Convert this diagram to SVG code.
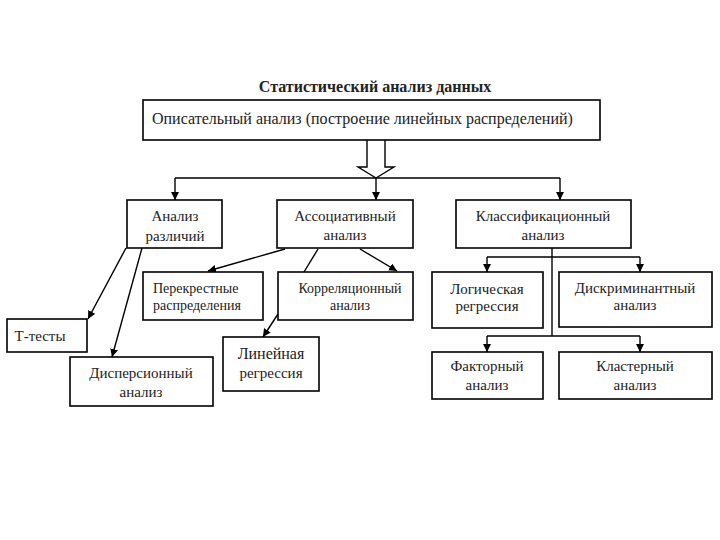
<svg xmlns="http://www.w3.org/2000/svg" width="720" height="540" viewBox="0 0 720 540">
<defs>
<marker id="ah" viewBox="0 0 10 10" refX="10" refY="5" markerWidth="8" markerHeight="8" orient="auto" markerUnits="userSpaceOnUse">
<path d="M0,0 L10,5 L0,10 z" fill="#000"/>
</marker>
<style>
.box{fill:#fff;stroke:#000;stroke-width:1.6}
.t{font-family:"Liberation Serif","Times New Roman",serif;font-size:15px;fill:#222;text-anchor:middle}
.s{font-size:14px}
.ln{stroke:#000;stroke-width:1.4;fill:none}
.ar{stroke:#000;stroke-width:1.4;fill:none;marker-end:url(#ah)}
</style>
</defs>
<rect width="720" height="540" fill="#fff"/>
<text x="375" y="92" class="t" style="font-weight:bold;font-size:16px" fill="#111">Статистический анализ данных</text>

<g id="connectors">
<path class="ln" d="M367,140 V167 H358 L376,178 L394,167 H385 V140" fill="#fff"/>
<path class="ln" d="M175,178 H560"/>
<path class="ar" d="M175,178 V200"/>
<path class="ar" d="M376,178 V200"/>
<path class="ar" d="M560,178 V200"/>
<path class="ar" d="M126,248 L88,319"/>
<path class="ar" d="M142,248 L112,357"/>
<path class="ar" d="M285,249 L208,271"/>
<path class="ar" d="M360,249 L397,271"/>
<path class="ln" d="M318,249 L304,272"/>
<path class="ar" d="M278,314 L263,337"/>
<path class="ln" d="M552,248 V336"/>
<path class="ln" d="M487,257 H640"/>
<path class="ln" d="M487,336 H640"/>
<path class="ar" d="M487,257 V272"/>
<path class="ar" d="M640,257 V272"/>
<path class="ar" d="M487,336 V352"/>
<path class="ar" d="M640,336 V352"/>
</g>

<g id="desc"><rect class="box" x="143" y="100" width="457" height="40"/><text class="t" x="152" y="124" style="text-anchor:start;font-size:16px">Описательный анализ (построение линейных распределений)</text></g>
<g id="diff"><rect class="box" x="127" y="200" width="95" height="48"/><text class="t" x="175" y="221">Анализ</text><text class="t" x="175" y="241">различий</text></g>
<g id="assoc"><rect class="box" x="277" y="200" width="136" height="48"/><text class="t" x="345" y="221">Ассоциативный</text><text class="t" x="345" y="240">анализ</text></g>
<g id="class"><rect class="box" x="456" y="200" width="175" height="48"/><text class="t" x="543" y="221">Классификационный</text><text class="t" x="543" y="240">анализ</text></g>
<g id="cross"><rect class="box" x="143" y="272" width="120" height="48"/><text class="t s" x="153" y="293" style="text-anchor:start">Перекрестные</text><text class="t s" x="153" y="310" style="text-anchor:start">распределения</text></g>
<g id="corr"><rect class="box" x="278" y="272" width="135" height="48"/><text class="t s" x="350" y="293">Корреляционный</text><text class="t s" x="350" y="310">анализ</text></g>
<g id="logreg"><rect class="box" x="432" y="272" width="111" height="56"/><text class="t" x="487" y="294">Логическая</text><text class="t" x="487" y="311">регрессия</text></g>
<g id="discr"><rect class="box" x="559" y="272" width="153" height="55"/><text class="t" x="635" y="293">Дискриминантный</text><text class="t" x="635" y="310">анализ</text></g>
<g id="ttest"><rect class="box" x="7" y="319" width="80" height="33"/><text class="t" x="40" y="341">Т-тесты</text></g>
<g id="linreg"><rect class="box" x="223" y="337" width="96" height="54"/><text class="t" x="271" y="359" style="font-size:16px">Линейная</text><text class="t" x="271" y="378">регрессия</text></g>
<g id="disp"><rect class="box" x="70" y="357" width="143" height="49"/><text class="t" x="141" y="378">Дисперсионный</text><text class="t" x="141" y="397">анализ</text></g>
<g id="factor"><rect class="box" x="432" y="352" width="111" height="47"/><text class="t" x="487" y="371">Факторный</text><text class="t" x="487" y="390">анализ</text></g>
<g id="cluster"><rect class="box" x="559" y="352" width="153" height="47"/><text class="t" x="635" y="371">Кластерный</text><text class="t" x="635" y="390">анализ</text></g>
</svg>
